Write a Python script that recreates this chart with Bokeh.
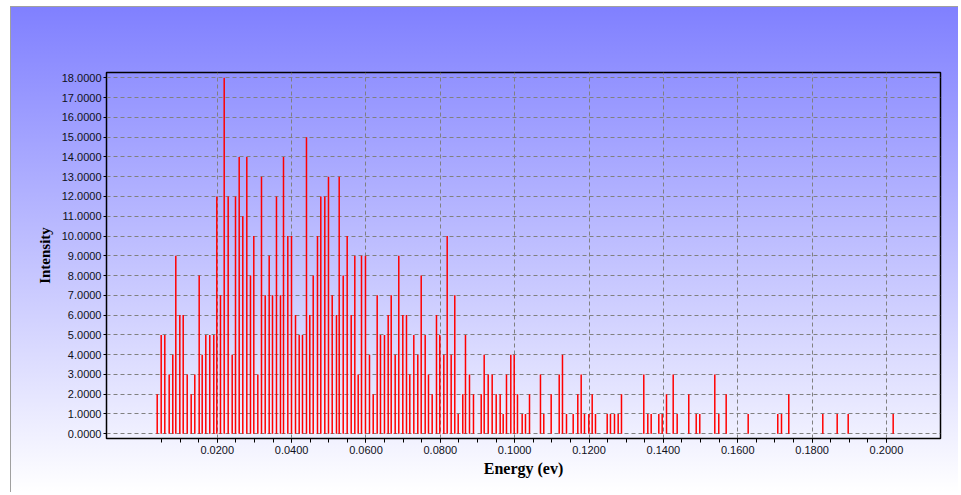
from bokeh.plotting import figure
from bokeh.models import Range1d, FixedTicker, NumeralTickFormatter, ColumnDataSource
from bokeh.embed import file_html
from bokeh.resources import INLINE

# Energy positions (ev) and intensities of the sticks
energy = [0.00385, 0.00492, 0.00589, 0.00707, 0.00804, 0.00885, 0.00993, 0.01084, 0.01192, 0.01299,
          0.01396, 0.01514, 0.01595, 0.01692, 0.01799, 0.01907, 0.01988, 0.02087, 0.02187, 0.02294,
          0.02402, 0.02491, 0.02590, 0.02687, 0.02795, 0.02894, 0.02983, 0.03091, 0.03190, 0.03290,
          0.03397, 0.03486, 0.03593, 0.03701, 0.03782, 0.03898, 0.03997, 0.04105, 0.04204, 0.04293,
          0.04400, 0.04489, 0.04581, 0.04696, 0.04785, 0.04893, 0.04992, 0.05092, 0.05207, 0.05280,
          0.05388, 0.05495, 0.05603, 0.05700, 0.05791, 0.05880, 0.05987, 0.06095, 0.06195, 0.06302,
          0.06391, 0.06498, 0.06598, 0.06679, 0.06786, 0.06883, 0.06991, 0.07090, 0.07179, 0.07287,
          0.07394, 0.07486, 0.07593, 0.07682, 0.07781, 0.07897, 0.07986, 0.08094, 0.08185, 0.08292,
          0.08389, 0.08481, 0.08604, 0.08677, 0.08785, 0.08892, 0.09100, 0.09180, 0.09288, 0.09395,
          0.09503, 0.09610, 0.09691, 0.09780, 0.09896, 0.09987, 0.10076, 0.10202, 0.10291, 0.10399,
          0.10694, 0.10783, 0.10982, 0.11198, 0.11286, 0.11394, 0.11574, 0.11698, 0.11789, 0.11878,
          0.11994, 0.12085, 0.12174, 0.12489, 0.12577, 0.12685, 0.12784, 0.12873, 0.13473, 0.13581,
          0.13672, 0.13877, 0.13968, 0.14084, 0.14264, 0.14371, 0.14683, 0.14883, 0.14979, 0.15383,
          0.15490, 0.15689, 0.16281, 0.17077, 0.17177, 0.17373, 0.18288, 0.18675, 0.18971, 0.20181]
intensity = [2, 5, 5, 3, 4, 9, 6, 6, 3, 2,
             3, 8, 4, 5, 5, 5, 12, 7, 18, 12,
             4, 12, 14, 11, 14, 8, 10, 3, 13, 7,
             9, 7, 12, 7, 14, 10, 10, 6, 5, 5,
             15, 6, 8, 10, 12, 12, 13, 7, 6, 13,
             8, 10, 6, 9, 3, 9, 9, 4, 2, 7,
             5, 5, 6, 7, 4, 9, 6, 6, 3, 5,
             4, 8, 5, 3, 2, 6, 5, 4, 10, 4,
             7, 1, 2, 5, 3, 2, 2, 4, 3, 3,
             2, 2, 1, 3, 4, 4, 2, 1, 1, 2,
             3, 1, 2, 3, 4, 1, 1, 2, 3, 1,
             1, 2, 1, 1, 1, 1, 1, 2, 3, 1,
             1, 1, 1, 2, 3, 1, 2, 1, 1, 3,
             1, 2, 1, 1, 1, 2, 1, 1, 1, 1]
base = [0] * len(energy)

x_ticks = [0.02, 0.04, 0.06, 0.08, 0.10, 0.12, 0.14, 0.16, 0.18, 0.20]
x_minor = [0.005, 0.010, 0.015, 0.020, 0.025, 0.030, 0.035, 0.040, 0.045, 0.050, 0.055, 0.060,
           0.065, 0.070, 0.075, 0.080, 0.085, 0.090, 0.095, 0.100, 0.105, 0.110, 0.115, 0.120,
           0.125, 0.130, 0.135, 0.140, 0.145, 0.150, 0.155, 0.160, 0.165, 0.170, 0.175, 0.180,
           0.185, 0.190, 0.195, 0.200]
y_ticks = list(range(0, 19))

src = ColumnDataSource(dict(x=energy, y=intensity, y0=base))

p = figure(width=948, height=486, output_backend="svg", toolbar_location=None,
           x_range=Range1d(-0.00979, 0.21454), y_range=Range1d(-0.24, 18.27),
           min_border_left=95, min_border_right=19, min_border_top=65, min_border_bottom=55)
p.margin = (6, 0, 0, 10)

p.styles = {"background": "linear-gradient(to bottom, #8080ff 0%, #ffffff 100%)",
            "border-top": "1px solid #a0a0a0", "border-left": "1px solid #a0a0a0"}
p.border_fill_alpha = 0
p.background_fill_alpha = 0
p.outline_line_color = "black"
p.outline_line_width = 1.5

p.segment(x0="x", y0="y0", x1="x", y1="y", source=src, line_color="#ff0000", line_width=1.5)

p.xaxis.ticker = FixedTicker(ticks=x_ticks, minor_ticks=x_minor)
p.yaxis.ticker = FixedTicker(ticks=y_ticks, minor_ticks=[])
p.xaxis.formatter = NumeralTickFormatter(format="0.0000")
p.yaxis.formatter = NumeralTickFormatter(format="0.0000")

for ax in (p.xaxis, p.yaxis):
    ax.axis_line_color = "black"
    ax.major_tick_line_color = "black"
    ax.minor_tick_line_color = "black"
    ax.major_tick_in = 0
    ax.minor_tick_in = 0
    ax.major_label_text_font = "Liberation Sans"
    ax.major_label_text_font_size = "11px"
    ax.major_label_text_color = "#101020"
    ax.axis_label_text_font = "Liberation Serif"
    ax.axis_label_text_font_style = "bold"
    ax.axis_label_text_font_size = "15px"
    ax.axis_label_text_color = "black"

p.xaxis.major_tick_out = 4
p.xaxis.minor_tick_out = 4
p.xaxis.major_label_standoff = 3
p.xaxis.axis_label = "Energy (ev)"
p.xaxis.axis_label_text_font_size = "16px"
p.xaxis.axis_label_standoff = 3
p.yaxis.major_tick_out = 3
p.yaxis.minor_tick_out = 0
p.yaxis.major_label_standoff = 2
p.yaxis.axis_label = "Intensity"
p.yaxis.axis_label_standoff = 6

p.xgrid.grid_line_color = "#808080"
p.xgrid.grid_line_dash = "4 3"
p.xgrid.grid_line_width = 1
p.ygrid.grid_line_color = "#808080"
p.ygrid.grid_line_dash = "4 3"
p.ygrid.grid_line_width = 1

open("out.html", "w").write(file_html(p, INLINE))
